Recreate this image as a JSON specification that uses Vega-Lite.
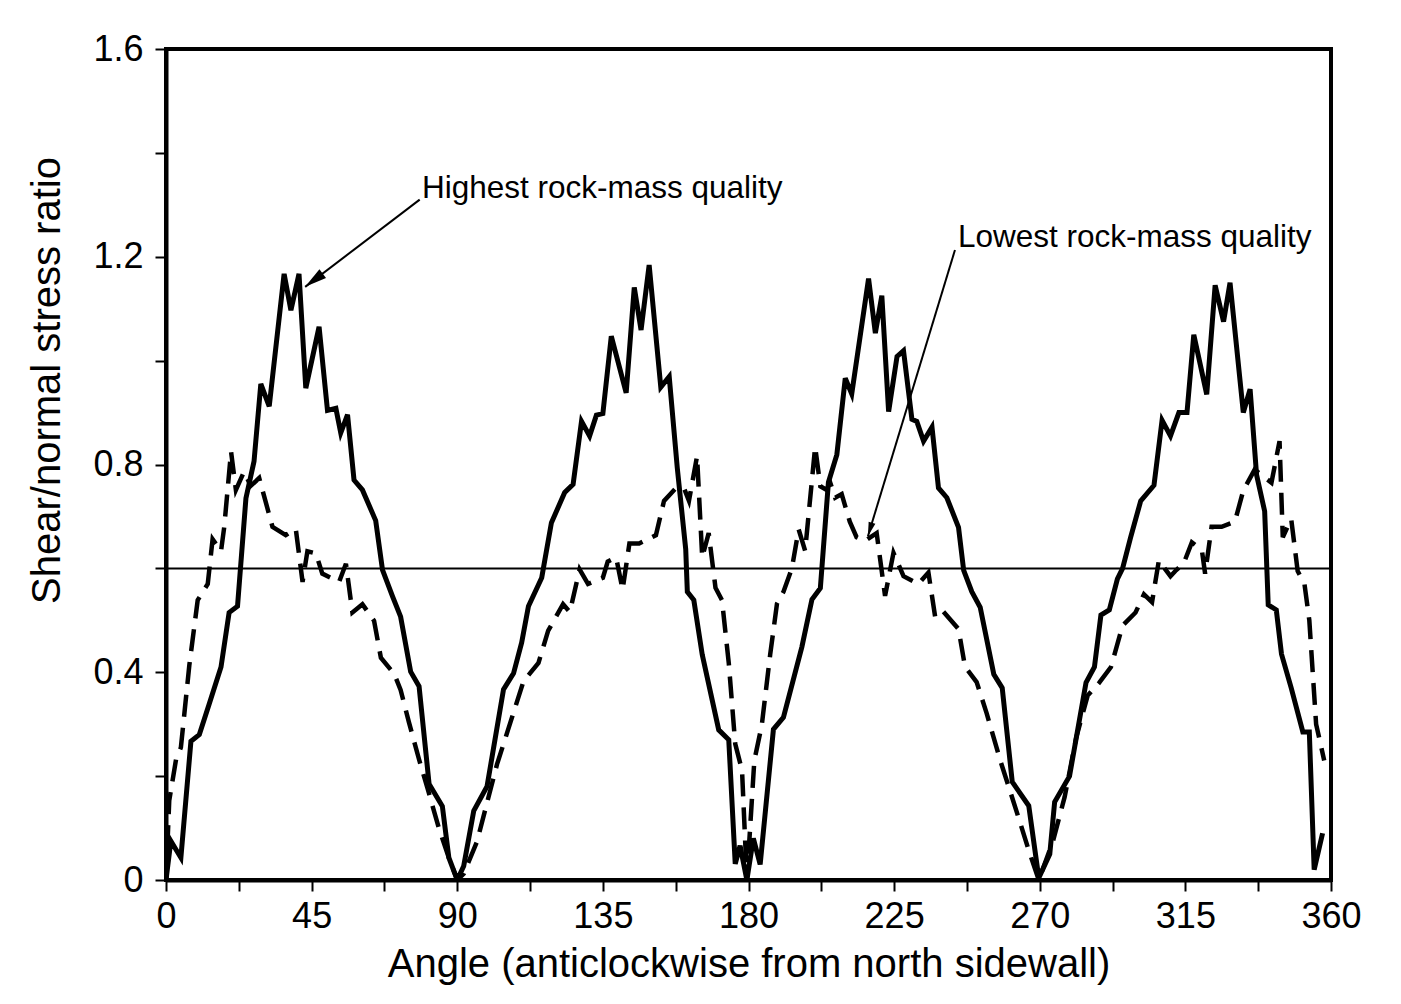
{
  "$schema": "https://vega.github.io/schema/vega-lite/v6.json",
  "width": 1165,
  "height": 831,
  "autosize": {"type": "none"},
  "padding": {"left": 166, "top": 49, "right": 70, "bottom": 124},
  "background": "white",
  "config": {
    "font": "Liberation Sans",
    "view": {"stroke": "black", "strokeWidth": 4}
  },
  "datasets": {
    "curves": [
      {"angle": 0, "ratio": 0, "quality": "Highest"},
      {"angle": 1.5, "ratio": 0.075, "quality": "Highest"},
      {"angle": 4.6, "ratio": 0.043, "quality": "Highest"},
      {"angle": 7.7, "ratio": 0.267, "quality": "Highest"},
      {"angle": 10.3, "ratio": 0.28, "quality": "Highest"},
      {"angle": 13.4, "ratio": 0.34, "quality": "Highest"},
      {"angle": 17.0, "ratio": 0.41, "quality": "Highest"},
      {"angle": 19.5, "ratio": 0.515, "quality": "Highest"},
      {"angle": 22.1, "ratio": 0.527, "quality": "Highest"},
      {"angle": 24.7, "ratio": 0.735, "quality": "Highest"},
      {"angle": 27.2, "ratio": 0.806, "quality": "Highest"},
      {"angle": 29.3, "ratio": 0.955, "quality": "Highest"},
      {"angle": 31.9, "ratio": 0.912, "quality": "Highest"},
      {"angle": 36.5, "ratio": 1.167, "quality": "Highest"},
      {"angle": 38.6, "ratio": 1.097, "quality": "Highest"},
      {"angle": 41.1, "ratio": 1.167, "quality": "Highest"},
      {"angle": 43.2, "ratio": 0.947, "quality": "Highest"},
      {"angle": 47.3, "ratio": 1.065, "quality": "Highest"},
      {"angle": 49.9, "ratio": 0.904, "quality": "Highest"},
      {"angle": 52.5, "ratio": 0.908, "quality": "Highest"},
      {"angle": 54.0, "ratio": 0.861, "quality": "Highest"},
      {"angle": 56.1, "ratio": 0.896, "quality": "Highest"},
      {"angle": 58.1, "ratio": 0.77, "quality": "Highest"},
      {"angle": 60.7, "ratio": 0.751, "quality": "Highest"},
      {"angle": 64.8, "ratio": 0.692, "quality": "Highest"},
      {"angle": 66.9, "ratio": 0.597, "quality": "Highest"},
      {"angle": 70.0, "ratio": 0.546, "quality": "Highest"},
      {"angle": 72.5, "ratio": 0.507, "quality": "Highest"},
      {"angle": 75.6, "ratio": 0.401, "quality": "Highest"},
      {"angle": 78.2, "ratio": 0.373, "quality": "Highest"},
      {"angle": 81.3, "ratio": 0.185, "quality": "Highest"},
      {"angle": 85.4, "ratio": 0.142, "quality": "Highest"},
      {"angle": 87.4, "ratio": 0.043, "quality": "Highest"},
      {"angle": 90, "ratio": 0, "quality": "Highest"},
      {"angle": 92.0, "ratio": 0.027, "quality": "Highest"},
      {"angle": 95.1, "ratio": 0.133, "quality": "Highest"},
      {"angle": 99.2, "ratio": 0.18, "quality": "Highest"},
      {"angle": 104.3, "ratio": 0.367, "quality": "Highest"},
      {"angle": 107.4, "ratio": 0.398, "quality": "Highest"},
      {"angle": 109.9, "ratio": 0.457, "quality": "Highest"},
      {"angle": 112.0, "ratio": 0.527, "quality": "Highest"},
      {"angle": 116.1, "ratio": 0.582, "quality": "Highest"},
      {"angle": 119.1, "ratio": 0.688, "quality": "Highest"},
      {"angle": 123.2, "ratio": 0.746, "quality": "Highest"},
      {"angle": 125.8, "ratio": 0.762, "quality": "Highest"},
      {"angle": 128.4, "ratio": 0.883, "quality": "Highest"},
      {"angle": 130.9, "ratio": 0.855, "quality": "Highest"},
      {"angle": 133.0, "ratio": 0.895, "quality": "Highest"},
      {"angle": 135.0, "ratio": 0.898, "quality": "Highest"},
      {"angle": 137.6, "ratio": 1.047, "quality": "Highest"},
      {"angle": 142.2, "ratio": 0.938, "quality": "Highest"},
      {"angle": 144.7, "ratio": 1.141, "quality": "Highest"},
      {"angle": 146.8, "ratio": 1.059, "quality": "Highest"},
      {"angle": 149.3, "ratio": 1.184, "quality": "Highest"},
      {"angle": 152.9, "ratio": 0.949, "quality": "Highest"},
      {"angle": 155.5, "ratio": 0.969, "quality": "Highest"},
      {"angle": 158.0, "ratio": 0.793, "quality": "Highest"},
      {"angle": 160.6, "ratio": 0.637, "quality": "Highest"},
      {"angle": 161.1, "ratio": 0.555, "quality": "Highest"},
      {"angle": 163.1, "ratio": 0.539, "quality": "Highest"},
      {"angle": 165.7, "ratio": 0.434, "quality": "Highest"},
      {"angle": 170.8, "ratio": 0.289, "quality": "Highest"},
      {"angle": 173.9, "ratio": 0.27, "quality": "Highest"},
      {"angle": 175.9, "ratio": 0.031, "quality": "Highest"},
      {"angle": 177.4, "ratio": 0.066, "quality": "Highest"},
      {"angle": 179.5, "ratio": 0, "quality": "Highest"},
      {"angle": 181.5, "ratio": 0.08, "quality": "Highest"},
      {"angle": 183.6, "ratio": 0.03, "quality": "Highest"},
      {"angle": 187.7, "ratio": 0.29, "quality": "Highest"},
      {"angle": 190.8, "ratio": 0.313, "quality": "Highest"},
      {"angle": 196.5, "ratio": 0.449, "quality": "Highest"},
      {"angle": 199.6, "ratio": 0.54, "quality": "Highest"},
      {"angle": 202.2, "ratio": 0.562, "quality": "Highest"},
      {"angle": 204.7, "ratio": 0.766, "quality": "Highest"},
      {"angle": 207.3, "ratio": 0.819, "quality": "Highest"},
      {"angle": 209.9, "ratio": 0.966, "quality": "Highest"},
      {"angle": 211.9, "ratio": 0.936, "quality": "Highest"},
      {"angle": 217.1, "ratio": 1.158, "quality": "Highest"},
      {"angle": 219.2, "ratio": 1.053, "quality": "Highest"},
      {"angle": 221.2, "ratio": 1.125, "quality": "Highest"},
      {"angle": 223.3, "ratio": 0.902, "quality": "Highest"},
      {"angle": 225.9, "ratio": 1.008, "quality": "Highest"},
      {"angle": 227.9, "ratio": 1.019, "quality": "Highest"},
      {"angle": 230.5, "ratio": 0.887, "quality": "Highest"},
      {"angle": 232.0, "ratio": 0.883, "quality": "Highest"},
      {"angle": 234.1, "ratio": 0.845, "quality": "Highest"},
      {"angle": 236.7, "ratio": 0.872, "quality": "Highest"},
      {"angle": 238.7, "ratio": 0.755, "quality": "Highest"},
      {"angle": 241.3, "ratio": 0.736, "quality": "Highest"},
      {"angle": 244.9, "ratio": 0.679, "quality": "Highest"},
      {"angle": 246.5, "ratio": 0.596, "quality": "Highest"},
      {"angle": 249.0, "ratio": 0.555, "quality": "Highest"},
      {"angle": 251.6, "ratio": 0.525, "quality": "Highest"},
      {"angle": 255.8, "ratio": 0.396, "quality": "Highest"},
      {"angle": 258.4, "ratio": 0.37, "quality": "Highest"},
      {"angle": 261.5, "ratio": 0.189, "quality": "Highest"},
      {"angle": 266.6, "ratio": 0.143, "quality": "Highest"},
      {"angle": 269.7, "ratio": 0.004, "quality": "Highest"},
      {"angle": 273.1, "ratio": 0.05, "quality": "Highest"},
      {"angle": 274.6, "ratio": 0.15, "quality": "Highest"},
      {"angle": 279.2, "ratio": 0.2, "quality": "Highest"},
      {"angle": 284.3, "ratio": 0.38, "quality": "Highest"},
      {"angle": 286.9, "ratio": 0.41, "quality": "Highest"},
      {"angle": 288.9, "ratio": 0.51, "quality": "Highest"},
      {"angle": 291.5, "ratio": 0.52, "quality": "Highest"},
      {"angle": 294.0, "ratio": 0.58, "quality": "Highest"},
      {"angle": 295.6, "ratio": 0.6, "quality": "Highest"},
      {"angle": 298.1, "ratio": 0.66, "quality": "Highest"},
      {"angle": 301.2, "ratio": 0.73, "quality": "Highest"},
      {"angle": 305.3, "ratio": 0.76, "quality": "Highest"},
      {"angle": 307.8, "ratio": 0.885, "quality": "Highest"},
      {"angle": 310.4, "ratio": 0.855, "quality": "Highest"},
      {"angle": 313.0, "ratio": 0.9, "quality": "Highest"},
      {"angle": 315.5, "ratio": 0.9, "quality": "Highest"},
      {"angle": 317.6, "ratio": 1.05, "quality": "Highest"},
      {"angle": 321.6, "ratio": 0.935, "quality": "Highest"},
      {"angle": 324.2, "ratio": 1.145, "quality": "Highest"},
      {"angle": 326.8, "ratio": 1.075, "quality": "Highest"},
      {"angle": 328.8, "ratio": 1.15, "quality": "Highest"},
      {"angle": 332.9, "ratio": 0.9, "quality": "Highest"},
      {"angle": 335.0, "ratio": 0.945, "quality": "Highest"},
      {"angle": 337.0, "ratio": 0.78, "quality": "Highest"},
      {"angle": 339.5, "ratio": 0.71, "quality": "Highest"},
      {"angle": 340.6, "ratio": 0.53, "quality": "Highest"},
      {"angle": 343.1, "ratio": 0.52, "quality": "Highest"},
      {"angle": 344.7, "ratio": 0.435, "quality": "Highest"},
      {"angle": 347.7, "ratio": 0.37, "quality": "Highest"},
      {"angle": 351.3, "ratio": 0.285, "quality": "Highest"},
      {"angle": 353.3, "ratio": 0.285, "quality": "Highest"},
      {"angle": 354.8, "ratio": 0.02, "quality": "Highest"},
      {"angle": 357.4, "ratio": 0.09, "quality": "Highest"},

      {"angle": 0, "ratio": 0, "quality": "Lowest"},
      {"angle": 1.0, "ratio": 0.153, "quality": "Lowest"},
      {"angle": 3.1, "ratio": 0.232, "quality": "Lowest"},
      {"angle": 4.6, "ratio": 0.255, "quality": "Lowest"},
      {"angle": 7.2, "ratio": 0.413, "quality": "Lowest"},
      {"angle": 9.8, "ratio": 0.539, "quality": "Lowest"},
      {"angle": 12.9, "ratio": 0.57, "quality": "Lowest"},
      {"angle": 14.4, "ratio": 0.656, "quality": "Lowest"},
      {"angle": 17.0, "ratio": 0.633, "quality": "Lowest"},
      {"angle": 18.0, "ratio": 0.68, "quality": "Lowest"},
      {"angle": 20.1, "ratio": 0.825, "quality": "Lowest"},
      {"angle": 21.6, "ratio": 0.751, "quality": "Lowest"},
      {"angle": 24.1, "ratio": 0.786, "quality": "Lowest"},
      {"angle": 26.2, "ratio": 0.759, "quality": "Lowest"},
      {"angle": 28.8, "ratio": 0.774, "quality": "Lowest"},
      {"angle": 32.9, "ratio": 0.68, "quality": "Lowest"},
      {"angle": 37.0, "ratio": 0.664, "quality": "Lowest"},
      {"angle": 40.1, "ratio": 0.676, "quality": "Lowest"},
      {"angle": 42.2, "ratio": 0.574, "quality": "Lowest"},
      {"angle": 43.7, "ratio": 0.633, "quality": "Lowest"},
      {"angle": 46.3, "ratio": 0.629, "quality": "Lowest"},
      {"angle": 48.3, "ratio": 0.59, "quality": "Lowest"},
      {"angle": 53.5, "ratio": 0.574, "quality": "Lowest"},
      {"angle": 55.6, "ratio": 0.609, "quality": "Lowest"},
      {"angle": 57.6, "ratio": 0.515, "quality": "Lowest"},
      {"angle": 60.7, "ratio": 0.531, "quality": "Lowest"},
      {"angle": 64.3, "ratio": 0.499, "quality": "Lowest"},
      {"angle": 66.4, "ratio": 0.428, "quality": "Lowest"},
      {"angle": 70.5, "ratio": 0.397, "quality": "Lowest"},
      {"angle": 72.5, "ratio": 0.366, "quality": "Lowest"},
      {"angle": 75.1, "ratio": 0.303, "quality": "Lowest"},
      {"angle": 78.2, "ratio": 0.232, "quality": "Lowest"},
      {"angle": 80.8, "ratio": 0.177, "quality": "Lowest"},
      {"angle": 84.4, "ratio": 0.098, "quality": "Lowest"},
      {"angle": 87.4, "ratio": 0.043, "quality": "Lowest"},
      {"angle": 90, "ratio": 0, "quality": "Lowest"},
      {"angle": 92, "ratio": 0.012, "quality": "Lowest"},
      {"angle": 96.1, "ratio": 0.074, "quality": "Lowest"},
      {"angle": 102.3, "ratio": 0.223, "quality": "Lowest"},
      {"angle": 110.5, "ratio": 0.383, "quality": "Lowest"},
      {"angle": 115.1, "ratio": 0.418, "quality": "Lowest"},
      {"angle": 118.1, "ratio": 0.48, "quality": "Lowest"},
      {"angle": 122.7, "ratio": 0.531, "quality": "Lowest"},
      {"angle": 124.8, "ratio": 0.516, "quality": "Lowest"},
      {"angle": 127.8, "ratio": 0.598, "quality": "Lowest"},
      {"angle": 130.4, "ratio": 0.57, "quality": "Lowest"},
      {"angle": 135.0, "ratio": 0.582, "quality": "Lowest"},
      {"angle": 136.5, "ratio": 0.613, "quality": "Lowest"},
      {"angle": 139.1, "ratio": 0.621, "quality": "Lowest"},
      {"angle": 141.1, "ratio": 0.559, "quality": "Lowest"},
      {"angle": 143.2, "ratio": 0.648, "quality": "Lowest"},
      {"angle": 146.2, "ratio": 0.648, "quality": "Lowest"},
      {"angle": 151.4, "ratio": 0.664, "quality": "Lowest"},
      {"angle": 153.9, "ratio": 0.73, "quality": "Lowest"},
      {"angle": 157.5, "ratio": 0.754, "quality": "Lowest"},
      {"angle": 160.1, "ratio": 0.754, "quality": "Lowest"},
      {"angle": 161.6, "ratio": 0.73, "quality": "Lowest"},
      {"angle": 164.1, "ratio": 0.816, "quality": "Lowest"},
      {"angle": 165.7, "ratio": 0.621, "quality": "Lowest"},
      {"angle": 167.7, "ratio": 0.668, "quality": "Lowest"},
      {"angle": 169.8, "ratio": 0.5625, "quality": "Lowest"},
      {"angle": 171.8, "ratio": 0.539, "quality": "Lowest"},
      {"angle": 173.9, "ratio": 0.418, "quality": "Lowest"},
      {"angle": 175.9, "ratio": 0.262, "quality": "Lowest"},
      {"angle": 178.0, "ratio": 0.211, "quality": "Lowest"},
      {"angle": 179.5, "ratio": 0, "quality": "Lowest"},
      {"angle": 181.8, "ratio": 0.23, "quality": "Lowest"},
      {"angle": 184.1, "ratio": 0.298, "quality": "Lowest"},
      {"angle": 186.7, "ratio": 0.434, "quality": "Lowest"},
      {"angle": 188.8, "ratio": 0.532, "quality": "Lowest"},
      {"angle": 190.8, "ratio": 0.555, "quality": "Lowest"},
      {"angle": 193.4, "ratio": 0.6, "quality": "Lowest"},
      {"angle": 195.5, "ratio": 0.675, "quality": "Lowest"},
      {"angle": 197.5, "ratio": 0.634, "quality": "Lowest"},
      {"angle": 200.6, "ratio": 0.834, "quality": "Lowest"},
      {"angle": 202.2, "ratio": 0.758, "quality": "Lowest"},
      {"angle": 204.2, "ratio": 0.751, "quality": "Lowest"},
      {"angle": 205.2, "ratio": 0.766, "quality": "Lowest"},
      {"angle": 206.8, "ratio": 0.736, "quality": "Lowest"},
      {"angle": 208.8, "ratio": 0.743, "quality": "Lowest"},
      {"angle": 211.3, "ratio": 0.69, "quality": "Lowest"},
      {"angle": 213.4, "ratio": 0.66, "quality": "Lowest"},
      {"angle": 216.0, "ratio": 0.653, "quality": "Lowest"},
      {"angle": 219.6, "ratio": 0.668, "quality": "Lowest"},
      {"angle": 222.2, "ratio": 0.547, "quality": "Lowest"},
      {"angle": 224.8, "ratio": 0.63, "quality": "Lowest"},
      {"angle": 227.9, "ratio": 0.585, "quality": "Lowest"},
      {"angle": 232.5, "ratio": 0.57, "quality": "Lowest"},
      {"angle": 235.6, "ratio": 0.592, "quality": "Lowest"},
      {"angle": 237.7, "ratio": 0.506, "quality": "Lowest"},
      {"angle": 240.2, "ratio": 0.517, "quality": "Lowest"},
      {"angle": 244.9, "ratio": 0.483, "quality": "Lowest"},
      {"angle": 246.9, "ratio": 0.411, "quality": "Lowest"},
      {"angle": 250.5, "ratio": 0.381, "quality": "Lowest"},
      {"angle": 253.6, "ratio": 0.321, "quality": "Lowest"},
      {"angle": 257.8, "ratio": 0.23, "quality": "Lowest"},
      {"angle": 260.9, "ratio": 0.17, "quality": "Lowest"},
      {"angle": 264.0, "ratio": 0.109, "quality": "Lowest"},
      {"angle": 266.6, "ratio": 0.057, "quality": "Lowest"},
      {"angle": 269.7, "ratio": 0, "quality": "Lowest"},
      {"angle": 274.1, "ratio": 0.075, "quality": "Lowest"},
      {"angle": 277.7, "ratio": 0.16, "quality": "Lowest"},
      {"angle": 281.3, "ratio": 0.275, "quality": "Lowest"},
      {"angle": 284.8, "ratio": 0.355, "quality": "Lowest"},
      {"angle": 288.4, "ratio": 0.38, "quality": "Lowest"},
      {"angle": 292.0, "ratio": 0.41, "quality": "Lowest"},
      {"angle": 295.6, "ratio": 0.49, "quality": "Lowest"},
      {"angle": 299.6, "ratio": 0.515, "quality": "Lowest"},
      {"angle": 302.2, "ratio": 0.55, "quality": "Lowest"},
      {"angle": 304.7, "ratio": 0.535, "quality": "Lowest"},
      {"angle": 306.8, "ratio": 0.615, "quality": "Lowest"},
      {"angle": 310.4, "ratio": 0.585, "quality": "Lowest"},
      {"angle": 311.9, "ratio": 0.595, "quality": "Lowest"},
      {"angle": 314.5, "ratio": 0.61, "quality": "Lowest"},
      {"angle": 317.0, "ratio": 0.65, "quality": "Lowest"},
      {"angle": 320.1, "ratio": 0.635, "quality": "Lowest"},
      {"angle": 321.1, "ratio": 0.59, "quality": "Lowest"},
      {"angle": 323.1, "ratio": 0.68, "quality": "Lowest"},
      {"angle": 326.2, "ratio": 0.68, "quality": "Lowest"},
      {"angle": 330.3, "ratio": 0.69, "quality": "Lowest"},
      {"angle": 332.9, "ratio": 0.75, "quality": "Lowest"},
      {"angle": 336.4, "ratio": 0.79, "quality": "Lowest"},
      {"angle": 338.5, "ratio": 0.78, "quality": "Lowest"},
      {"angle": 341.6, "ratio": 0.765, "quality": "Lowest"},
      {"angle": 344.1, "ratio": 0.845, "quality": "Lowest"},
      {"angle": 345.1, "ratio": 0.66, "quality": "Lowest"},
      {"angle": 347.7, "ratio": 0.695, "quality": "Lowest"},
      {"angle": 349.7, "ratio": 0.595, "quality": "Lowest"},
      {"angle": 351.8, "ratio": 0.57, "quality": "Lowest"},
      {"angle": 353.3, "ratio": 0.5, "quality": "Lowest"},
      {"angle": 355.4, "ratio": 0.3, "quality": "Lowest"},
      {"angle": 357.9, "ratio": 0.23, "quality": "Lowest"}
    ],
    "reference": [{"ratio": 0.6}],
    "notes": [
      {"label": "Highest rock-mass quality", "tx": 79.1, "ty": 1.33, "x1": 78.4, "y1": 1.31, "x2": 43.0, "y2": 1.142},
      {"label": "Lowest rock-mass quality", "tx": 244.7, "ty": 1.236, "x1": 243.8, "y1": 1.213, "x2": 216.9, "y2": 0.662}
    ]
  },
  "layer": [
    {
      "data": {"name": "curves"},
      "transform": [{"filter": "datum.quality == 'Highest'"}],
      "mark": {"type": "line", "color": "black", "strokeWidth": 5, "strokeJoin": "miter", "clip": true},
      "encoding": {
        "x": {
          "field": "angle", "type": "quantitative",
          "scale": {"domain": [0, 360], "nice": false, "zero": false},
          "axis": {
            "title": "Angle (anticlockwise from north sidewall)",
            "values": [0, 22.5, 45, 67.5, 90, 112.5, 135, 157.5, 180, 202.5, 225, 247.5, 270, 292.5, 315, 337.5, 360],
            "labelExpr": "datum.value % 45 == 0 ? datum.label : ''",
            "labelOverlap": false, "labelFlush": false,
            "labelFontSize": 36, "labelColor": "black", "labelPadding": 8,
            "tickSize": 11, "tickWidth": 2, "tickColor": "black",
            "domainColor": "black", "domainWidth": 4,
            "grid": false,
            "titleFontSize": 40, "titleFontWeight": "normal", "titleColor": "black", "titlePadding": 10
          }
        },
        "y": {
          "field": "ratio", "type": "quantitative",
          "scale": {"domain": [0, 1.6], "nice": false},
          "axis": {
            "title": "Shear/normal stress ratio",
            "values": [0, 0.2, 0.4, 0.6, 0.8, 1.0, 1.2, 1.4, 1.6],
            "labelExpr": "datum.value == 0 ? '0' : (round(datum.value * 10) % 4 == 0 ? format(datum.value, '.1f') : '')",
            "labelOverlap": false, "labelFlush": false,
            "labelFontSize": 36, "labelColor": "black", "labelPadding": 12,
            "tickSize": 11, "tickWidth": 2, "tickColor": "black",
            "domainColor": "black", "domainWidth": 4,
            "grid": false,
            "titleFontSize": 40, "titleFontWeight": "normal", "titleColor": "black",
            "titleX": -119, "titleY": 331, "titleAlign": "center", "titleBaseline": "middle", "titleAngle": 270
          }
        }
      }
    },
    {
      "data": {"name": "curves"},
      "transform": [{"filter": "datum.quality == 'Lowest'"}],
      "mark": {"type": "line", "color": "black", "strokeWidth": 4.5, "strokeDash": [22, 11], "strokeJoin": "miter", "clip": true},
      "encoding": {
        "x": {"field": "angle", "type": "quantitative"},
        "y": {"field": "ratio", "type": "quantitative"}
      }
    },
    {
      "data": {"name": "reference"},
      "mark": {"type": "rule", "color": "black", "strokeWidth": 2},
      "encoding": {"y": {"field": "ratio", "type": "quantitative"}}
    },
    {
      "data": {"name": "notes"},
      "mark": {"type": "rule", "color": "black", "strokeWidth": 2},
      "encoding": {
        "x": {"field": "x1", "type": "quantitative"},
        "y": {"field": "y1", "type": "quantitative"},
        "x2": {"field": "x2"},
        "y2": {"field": "y2"}
      }
    },
    {
      "data": {"name": "notes"},
      "transform": [{"filter": "datum.label == 'Highest rock-mass quality'"}],
      "mark": {"type": "point", "shape": "M0,0L-0.5,2L0.5,2Z", "filled": true, "color": "black", "opacity": 1, "size": 484, "angle": 233},
      "encoding": {
        "x": {"field": "x2", "type": "quantitative"},
        "y": {"field": "y2", "type": "quantitative"}
      }
    },
    {
      "data": {"name": "notes"},
      "transform": [{"filter": "datum.label == 'Lowest rock-mass quality'"}],
      "mark": {"type": "point", "shape": "M0,0L-0.5,2L0.5,2Z", "filled": true, "color": "black", "opacity": 1, "size": 196, "angle": 197},
      "encoding": {
        "x": {"field": "x2", "type": "quantitative"},
        "y": {"field": "y2", "type": "quantitative"}
      }
    },
    {
      "data": {"name": "notes"},
      "mark": {"type": "text", "align": "left", "baseline": "middle", "fontSize": 31.5, "color": "black", "font": "Liberation Sans"},
      "encoding": {
        "x": {"field": "tx", "type": "quantitative"},
        "y": {"field": "ty", "type": "quantitative"},
        "text": {"field": "label"}
      }
    }
  ]
}
